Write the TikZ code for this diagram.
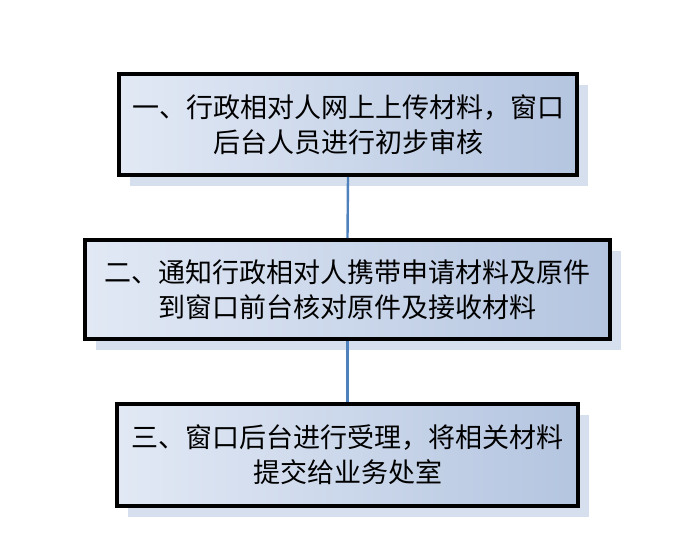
\documentclass[tikz,border=0pt]{standalone}
\usepackage{fontspec}
\newfontfamily\cjk{Noto Sans CJK SC}
\usepackage{tikz}
\usetikzlibrary{shapes,arrows,shadows,positioning}
\definecolor{boxlight}{RGB}{226,233,245}
\definecolor{boxdark}{RGB}{180,197,224}
\definecolor{shadowblue}{RGB}{214,223,238}
\definecolor{linkblue}{RGB}{79,129,189}

\begin{document}
\begin{tikzpicture}[x=1pt,y=-1pt,
		stepbox/.style={rectangle,draw=black,line width=4pt,
			left color=boxlight,right color=boxdark,
			drop shadow={shadow xshift=11pt,shadow yshift=-11pt,fill=shadowblue,opacity=1},
			align=center,inner sep=0pt,
			font=\cjk\fontsize{27}{35}\selectfont},
		link/.style={draw=linkblue,line width=2.4pt}]
			\useasboundingbox (0,0) rectangle (693,554);
			% boxes
			\node[stepbox,minimum width=458pt,minimum height=101pt] (upload) at (348,124.5)
				{一、行政相对人网上上传材料，窗口\\后台人员进行初步审核};
			\node[stepbox,minimum width=525pt,minimum height=99pt] (check) at (347.5,289.5)
				{二、通知行政相对人携带申请材料及原件\\到窗口前台核对原件及接收材料};
			\node[stepbox,minimum width=461pt,minimum height=102pt] (accept) at (347.5,455)
				{三、窗口后台进行受理，将相关材料\\提交给业务处室};
			% connectors
			\draw[link] (upload.south) -- (check.north);
			\draw[link] (check.south) -- (accept.north);
		\end{tikzpicture}
\end{document}
